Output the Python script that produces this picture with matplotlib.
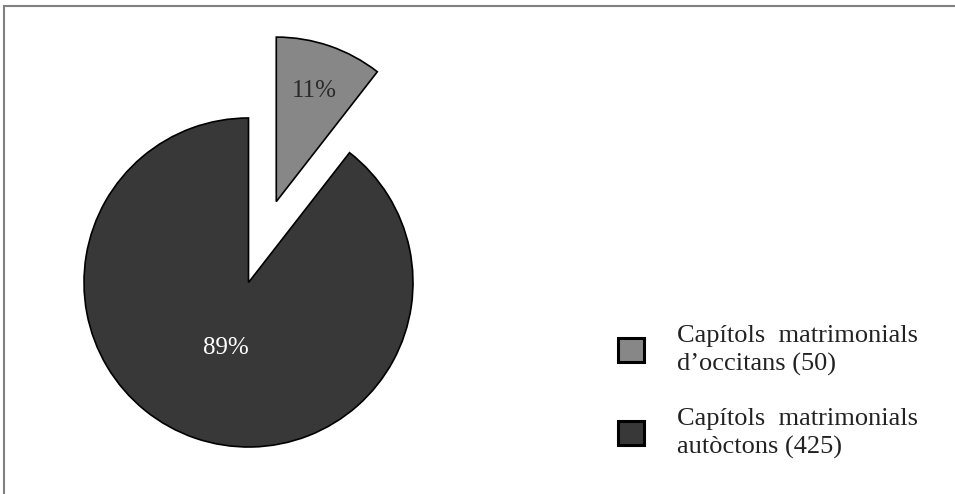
import matplotlib
matplotlib.use("Agg")
import matplotlib.pyplot as plt
from matplotlib.lines import Line2D
import numpy as np

plt.rcParams['font.family'] = ['Liberation Serif', 'DejaVu Serif']

labels = ["Capítols  matrimonials\nd\u2019occitans (50)",
          "Capítols  matrimonials\nautòctons (425)"]
values = [50, 425]
colors = ["#878787", "#383838"]
pct_colors = ["#2a2a2a", "#ffffff"]

W, H, DPI = 955, 494, 100
fig = plt.figure(figsize=(W / DPI, H / DPI), dpi=DPI)

# pie centre and radius in pixels
cx, cy, R = 248.5, H - 282.5, 164.5
ax = fig.add_axes([0, 0, 1, 1])

wedges, texts, autotexts = ax.pie(
    values, colors=colors, startangle=90, counterclock=False,
    explode=[0.52, 0.0], radius=1.0, center=(0, 0),
    autopct='%1.0f%%', pctdistance=0.71,
    wedgeprops=dict(edgecolor='black', linewidth=1.2),
    textprops=dict(fontsize=18))

for w, t, c in zip(wedges, autotexts, pct_colors):
    t.set_color(c)

# label of the large wedge sits closer to its centre
w = wedges[1]
mid = np.deg2rad(0.5 * (w.theta1 + w.theta2))
autotexts[1].set_position((w.center[0] + 0.42 * np.cos(mid),
                           w.center[1] + 0.42 * np.sin(mid)))

ax.set_xlim(-cx / R, (W - cx) / R)
ax.set_ylim(-cy / R, (H - cy) / R)
ax.set_aspect('auto')
ax.axis('off')

leg = ax.legend(wedges, labels, loc='upper left',
                bbox_to_anchor=(618 / W, 1 - 325 / H),
                bbox_transform=fig.transFigure,
                frameon=False, fontsize=19,
                handlelength=1.0, handleheight=1.0,
                handletextpad=1.25, labelspacing=1.21,
                borderpad=0, borderaxespad=0)
for t in leg.get_texts():
    t.set_linespacing(1.34)
    t.set_color('#222222')
for h in leg.legend_handles:
    h.set_linewidth(2.2)
    h.set_edgecolor('black')

# frame lines along the top and left edges
fig.add_artist(Line2D([4 / W, 1], [1 - 6 / H, 1 - 6 / H],
                      transform=fig.transFigure, color='#808080', lw=1.5))
fig.add_artist(Line2D([4 / W, 4 / W], [0, 1 - 6 / H],
                      transform=fig.transFigure, color='#808080', lw=1.5))

fig.savefig("out.png", dpi=DPI)
